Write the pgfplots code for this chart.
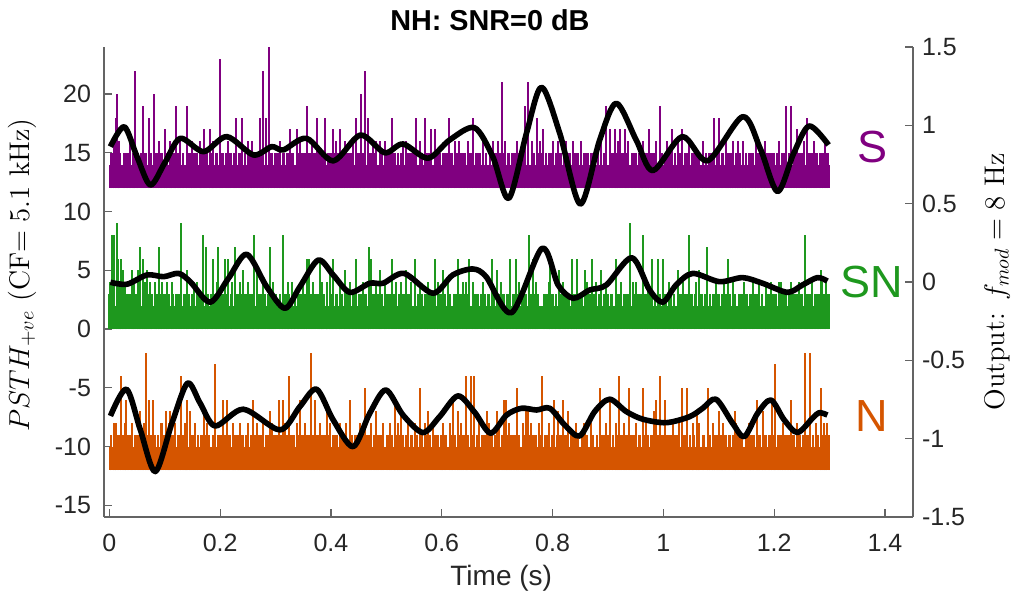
\documentclass[border=0pt]{standalone}
\usepackage{pgfplots}
\pgfplotsset{compat=1.18}
\usepackage{pgfplotstable}
\usepackage{fontspec}
\newfontfamily\hel{Liberation Sans}
\definecolor{cS}{RGB}{128,0,128}
\definecolor{cSN}{RGB}{30,152,30}
\definecolor{cN}{RGB}{213,85,0}
\definecolor{axgray}{RGB}{100,100,100}
\newcommand\ticfont{\fontsize{12.5}{14}\selectfont\hel}
\newcommand\xlabfont{\fontsize{14}{16}\selectfont\hel}
\newcommand\titfont{\fontsize{14.4}{16}\selectfont\hel\bfseries}
\newcommand\labfont{\fontsize{14.2}{16}\selectfont}
\newcommand\tagfont{\fontsize{22.5}{24}\selectfont\hel}

% S: tall spikes (counts above baseline 12)
\pgfplotstableread[row sep=\\]{t c\\
0.008 4\\ 0.012 6\\ 0.014 8\\ 0.017 4\\ 0.038 4\\ 0.046 10\\ 0.061 7\\ 0.071 6\\ 0.080 8\\ 0.089 4\\ 0.100 5\\ 0.110 4\\ 0.120 7\\ 0.128 4\\ 0.140 7\\ 0.149 4\\ 0.164 4\\ 0.171 5\\ 0.181 5\\ 0.188 4\\ 0.200 11\\ 0.215 4\\ 0.229 6\\ 0.240 6\\ 0.251 4\\ 0.257 4\\ 0.272 6\\ 0.278 10\\ 0.283 6\\ 0.288 12\\ 0.308 4\\ 0.327 5\\ 0.338 5\\ 0.344 4\\ 0.357 7\\ 0.365 4\\ 0.374 6\\ 0.390 6\\ 0.404 5\\ 0.410 4\\ 0.417 5\\ 0.425 4\\ 0.440 4\\ 0.446 6\\ 0.454 8\\ 0.461 10\\ 0.467 6\\ 0.476 4\\ 0.482 4\\ 0.488 4\\ 0.497 4\\ 0.510 6\\ 0.530 4\\ 0.536 4\\ 0.554 6\\ 0.560 4\\ 0.569 6\\ 0.580 5\\ 0.587 5\\ 0.613 6\\ 0.623 4\\ 0.632 4\\ 0.647 4\\ 0.656 6\\ 0.674 4\\ 0.693 4\\ 0.702 4\\ 0.708 9\\ 0.715 4\\ 0.735 4\\ 0.750 7\\ 0.756 9\\ 0.762 4\\ 0.771 6\\ 0.777 4\\ 0.783 5\\ 0.801 4\\ 0.810 4\\ 0.825 4\\ 0.837 4\\ 0.852 4\\ 0.888 4\\ 0.897 7\\ 0.903 5\\ 0.913 5\\ 0.918 4\\ 0.922 5\\ 0.931 5\\ 0.937 4\\ 0.963 4\\ 0.974 5\\ 0.987 4\\ 0.993 7\\ 1.007 4\\ 1.016 5\\ 1.026 4\\ 1.034 5\\ 1.047 4\\ 1.071 4\\ 1.092 6\\ 1.101 6\\ 1.113 4\\ 1.125 4\\ 1.134 4\\ 1.143 4\\ 1.167 4\\ 1.183 4\\ 1.209 4\\ 1.222 7\\ 1.231 7\\ 1.241 5\\ 1.254 4\\ 1.259 6\\ 1.272 4\\ 1.292 4\\
}\Stall
\pgfplotstableread[row sep=\\]{t\\
0.004\\ 0.019\\ 0.027\\ 0.033\\ 0.043\\ 0.051\\ 0.058\\ 0.066\\ 0.075\\ 0.085\\ 0.094\\ 0.104\\ 0.113\\ 0.117\\ 0.124\\ 0.133\\ 0.145\\ 0.153\\ 0.158\\ 0.167\\ 0.176\\ 0.186\\ 0.193\\ 0.204\\ 0.211\\ 0.219\\ 0.226\\ 0.235\\ 0.245\\ 0.254\\ 0.262\\ 0.268\\ 0.276\\ 0.292\\ 0.299\\ 0.304\\ 0.314\\ 0.321\\ 0.331\\ 0.341\\ 0.349\\ 0.353\\ 0.361\\ 0.370\\ 0.379\\ 0.385\\ 0.395\\ 0.400\\ 0.408\\ 0.414\\ 0.421\\ 0.430\\ 0.436\\ 0.450\\ 0.458\\ 0.472\\ 0.480\\ 0.492\\ 0.502\\ 0.507\\ 0.515\\ 0.521\\ 0.527\\ 0.540\\ 0.546\\ 0.551\\ 0.563\\ 0.572\\ 0.577\\ 0.590\\ 0.596\\ 0.603\\ 0.609\\ 0.617\\ 0.626\\ 0.636\\ 0.641\\ 0.652\\ 0.662\\ 0.668\\ 0.680\\ 0.687\\ 0.697\\ 0.705\\ 0.712\\ 0.720\\ 0.727\\ 0.732\\ 0.741\\ 0.746\\ 0.766\\ 0.775\\ 0.779\\ 0.788\\ 0.794\\ 0.799\\ 0.807\\ 0.815\\ 0.821\\ 0.830\\ 0.841\\ 0.846\\ 0.857\\ 0.863\\ 0.870\\ 0.876\\ 0.882\\ 0.893\\ 0.908\\ 0.916\\ 0.926\\ 0.934\\ 0.944\\ 0.950\\ 0.956\\ 0.961\\ 0.969\\ 0.979\\ 0.984\\ 0.996\\ 1.003\\ 1.011\\ 1.021\\ 1.029\\ 1.039\\ 1.044\\ 1.052\\ 1.058\\ 1.064\\ 1.077\\ 1.083\\ 1.088\\ 1.097\\ 1.107\\ 1.118\\ 1.122\\ 1.131\\ 1.138\\ 1.149\\ 1.155\\ 1.161\\ 1.172\\ 1.177\\ 1.188\\ 1.194\\ 1.199\\ 1.205\\ 1.214\\ 1.218\\ 1.227\\ 1.236\\ 1.246\\ 1.251\\ 1.263\\ 1.268\\ 1.277\\ 1.283\\ 1.288\\ 1.296\\
}\Sdense

% SN: tall spikes (counts above baseline 0)
\pgfplotstableread[row sep=\\]{t c\\
0.002 4\\ 0.005 8\\ 0.009 8\\ 0.013 9\\ 0.016 6\\ 0.020 4\\ 0.021 6\\ 0.025 5\\ 0.029 4\\ 0.041 5\\ 0.044 4\\ 0.051 5\\ 0.056 7\\ 0.060 6\\ 0.065 4\\ 0.068 5\\ 0.074 4\\ 0.083 4\\ 0.089 7\\ 0.095 4\\ 0.104 4\\ 0.113 4\\ 0.130 9\\ 0.140 5\\ 0.152 4\\ 0.158 4\\ 0.169 8\\ 0.174 7\\ 0.187 6\\ 0.194 4\\ 0.197 7\\ 0.209 6\\ 0.215 6\\ 0.221 4\\ 0.227 7\\ 0.236 4\\ 0.242 5\\ 0.251 4\\ 0.261 8\\ 0.267 5\\ 0.278 4\\ 0.290 7\\ 0.296 4\\ 0.313 8\\ 0.323 4\\ 0.329 4\\ 0.350 4\\ 0.356 6\\ 0.361 6\\ 0.368 4\\ 0.380 6\\ 0.383 4\\ 0.392 4\\ 0.398 5\\ 0.404 6\\ 0.416 4\\ 0.425 5\\ 0.434 4\\ 0.446 6\\ 0.458 4\\ 0.468 7\\ 0.472 6\\ 0.482 4\\ 0.488 5\\ 0.497 4\\ 0.511 6\\ 0.518 4\\ 0.527 4\\ 0.536 5\\ 0.545 4\\ 0.552 6\\ 0.560 4\\ 0.575 4\\ 0.587 6\\ 0.593 4\\ 0.602 5\\ 0.611 4\\ 0.629 6\\ 0.638 4\\ 0.644 4\\ 0.650 6\\ 0.656 4\\ 0.674 4\\ 0.690 6\\ 0.699 5\\ 0.707 4\\ 0.724 6\\ 0.734 6\\ 0.740 4\\ 0.757 8\\ 0.764 6\\ 0.770 4\\ 0.794 4\\ 0.795 6\\ 0.812 5\\ 0.819 4\\ 0.835 6\\ 0.844 6\\ 0.858 5\\ 0.863 4\\ 0.871 6\\ 0.879 4\\ 0.888 5\\ 0.897 4\\ 0.914 6\\ 0.924 4\\ 0.939 9\\ 0.945 4\\ 0.951 4\\ 0.963 8\\ 0.972 4\\ 0.980 6\\ 0.990 6\\ 1.000 6\\ 1.011 4\\ 1.026 5\\ 1.035 4\\ 1.047 8\\ 1.059 4\\ 1.065 5\\ 1.079 7\\ 1.095 4\\ 1.110 4\\ 1.116 6\\ 1.125 4\\ 1.146 4\\ 1.161 4\\ 1.173 4\\ 1.185 4\\ 1.194 4\\ 1.209 4\\ 1.212 4\\ 1.230 4\\ 1.245 4\\ 1.256 8\\ 1.269 4\\ 1.284 5\\ 1.287 4\\ 1.293 4\\
}\SNtall
\pgfplotstableread[row sep=\\]{t\\
0.001\\ 0.008\\ 0.018\\ 0.023\\ 0.031\\ 0.037\\ 0.047\\ 0.054\\ 0.063\\ 0.071\\ 0.077\\ 0.086\\ 0.092\\ 0.099\\ 0.107\\ 0.115\\ 0.121\\ 0.127\\ 0.136\\ 0.143\\ 0.150\\ 0.161\\ 0.166\\ 0.178\\ 0.184\\ 0.191\\ 0.200\\ 0.206\\ 0.212\\ 0.220\\ 0.231\\ 0.239\\ 0.246\\ 0.254\\ 0.258\\ 0.270\\ 0.274\\ 0.281\\ 0.287\\ 0.293\\ 0.300\\ 0.308\\ 0.318\\ 0.323\\ 0.335\\ 0.341\\ 0.347\\ 0.353\\ 0.364\\ 0.372\\ 0.377\\ 0.386\\ 0.393\\ 0.401\\ 0.410\\ 0.419\\ 0.428\\ 0.431\\ 0.440\\ 0.451\\ 0.455\\ 0.462\\ 0.477\\ 0.485\\ 0.491\\ 0.500\\ 0.506\\ 0.514\\ 0.523\\ 0.531\\ 0.539\\ 0.544\\ 0.557\\ 0.563\\ 0.570\\ 0.579\\ 0.584\\ 0.597\\ 0.605\\ 0.614\\ 0.622\\ 0.626\\ 0.634\\ 0.641\\ 0.647\\ 0.660\\ 0.665\\ 0.671\\ 0.678\\ 0.684\\ 0.694\\ 0.703\\ 0.711\\ 0.718\\ 0.729\\ 0.737\\ 0.745\\ 0.751\\ 0.761\\ 0.768\\ 0.773\\ 0.785\\ 0.791\\ 0.800\\ 0.806\\ 0.815\\ 0.824\\ 0.829\\ 0.840\\ 0.849\\ 0.853\\ 0.861\\ 0.867\\ 0.875\\ 0.884\\ 0.893\\ 0.900\\ 0.907\\ 0.918\\ 0.921\\ 0.930\\ 0.935\\ 0.948\\ 0.955\\ 0.959\\ 0.968\\ 0.976\\ 0.985\\ 0.993\\ 1.004\\ 1.013\\ 1.019\\ 1.031\\ 1.038\\ 1.043\\ 1.051\\ 1.057\\ 1.069\\ 1.075\\ 1.084\\ 1.091\\ 1.100\\ 1.106\\ 1.113\\ 1.120\\ 1.129\\ 1.137\\ 1.141\\ 1.150\\ 1.157\\ 1.165\\ 1.170\\ 1.178\\ 1.189\\ 1.198\\ 1.203\\ 1.216\\ 1.221\\ 1.227\\ 1.235\\ 1.240\\ 1.249\\ 1.260\\ 1.265\\ 1.274\\ 1.280\\ 1.290\\ 1.298\\
}\SNdense

% N: tall spikes (counts above baseline -12)
\pgfplotstableread[row sep=\\]{t c\\
0.008 4\\ 0.012 4\\ 0.021 8\\ 0.029 4\\ 0.030 6\\ 0.041 4\\ 0.056 5\\ 0.062 4\\ 0.066 10\\ 0.071 6\\ 0.078 6\\ 0.093 4\\ 0.095 4\\ 0.102 5\\ 0.107 4\\ 0.109 5\\ 0.119 4\\ 0.129 8\\ 0.137 4\\ 0.141 6\\ 0.145 5\\ 0.155 4\\ 0.170 5\\ 0.176 4\\ 0.190 9\\ 0.206 6\\ 0.213 6\\ 0.224 4\\ 0.236 4\\ 0.251 4\\ 0.260 6\\ 0.266 4\\ 0.278 4\\ 0.290 5\\ 0.293 4\\ 0.306 6\\ 0.314 6\\ 0.317 4\\ 0.324 8\\ 0.338 4\\ 0.344 6\\ 0.353 4\\ 0.364 10\\ 0.371 6\\ 0.380 4\\ 0.392 5\\ 0.398 4\\ 0.416 4\\ 0.428 4\\ 0.434 6\\ 0.452 4\\ 0.461 7\\ 0.473 4\\ 0.482 5\\ 0.494 4\\ 0.506 4\\ 0.515 6\\ 0.521 4\\ 0.527 5\\ 0.539 4\\ 0.551 4\\ 0.560 7\\ 0.569 4\\ 0.575 5\\ 0.584 4\\ 0.602 4\\ 0.614 4\\ 0.620 6\\ 0.629 5\\ 0.635 4\\ 0.644 8\\ 0.653 8\\ 0.659 8\\ 0.668 4\\ 0.682 5\\ 0.686 4\\ 0.700 5\\ 0.704 4\\ 0.713 6\\ 0.716 6\\ 0.722 4\\ 0.735 7\\ 0.746 4\\ 0.752 5\\ 0.755 5\\ 0.761 4\\ 0.776 4\\ 0.781 8\\ 0.794 4\\ 0.803 6\\ 0.810 5\\ 0.818 6\\ 0.827 5\\ 0.842 4\\ 0.857 4\\ 0.858 4\\ 0.869 4\\ 0.885 7\\ 0.896 4\\ 0.903 6\\ 0.914 4\\ 0.920 8\\ 0.929 4\\ 0.938 7\\ 0.951 4\\ 0.963 7\\ 0.968 4\\ 0.983 5\\ 0.986 6\\ 0.994 8\\ 1.002 6\\ 1.017 4\\ 1.029 4\\ 1.033 7\\ 1.043 7\\ 1.053 4\\ 1.060 5\\ 1.065 4\\ 1.080 7\\ 1.089 4\\ 1.101 5\\ 1.107 4\\ 1.130 5\\ 1.131 4\\ 1.155 4\\ 1.169 6\\ 1.179 5\\ 1.196 6\\ 1.202 9\\ 1.215 4\\ 1.230 6\\ 1.242 4\\ 1.256 10\\ 1.264 10\\ 1.275 4\\ 1.284 7\\ 1.290 4\\ 1.295 4\\
}\Ntall
\pgfplotstableread[row sep=\\]{t\\
0.003\\ 0.011\\ 0.016\\ 0.025\\ 0.034\\ 0.040\\ 0.047\\ 0.053\\ 0.060\\ 0.069\\ 0.075\\ 0.082\\ 0.088\\ 0.098\\ 0.105\\ 0.112\\ 0.116\\ 0.125\\ 0.133\\ 0.139\\ 0.148\\ 0.152\\ 0.160\\ 0.166\\ 0.173\\ 0.180\\ 0.187\\ 0.196\\ 0.201\\ 0.210\\ 0.217\\ 0.228\\ 0.233\\ 0.240\\ 0.247\\ 0.256\\ 0.264\\ 0.271\\ 0.275\\ 0.283\\ 0.289\\ 0.297\\ 0.302\\ 0.310\\ 0.320\\ 0.327\\ 0.333\\ 0.341\\ 0.348\\ 0.357\\ 0.361\\ 0.368\\ 0.376\\ 0.385\\ 0.389\\ 0.396\\ 0.404\\ 0.410\\ 0.421\\ 0.425\\ 0.437\\ 0.444\\ 0.449\\ 0.457\\ 0.465\\ 0.470\\ 0.478\\ 0.486\\ 0.491\\ 0.502\\ 0.509\\ 0.516\\ 0.524\\ 0.530\\ 0.536\\ 0.545\\ 0.554\\ 0.563\\ 0.572\\ 0.578\\ 0.588\\ 0.593\\ 0.599\\ 0.607\\ 0.617\\ 0.624\\ 0.632\\ 0.639\\ 0.647\\ 0.656\\ 0.664\\ 0.673\\ 0.678\\ 0.690\\ 0.697\\ 0.702\\ 0.710\\ 0.719\\ 0.726\\ 0.731\\ 0.739\\ 0.749\\ 0.758\\ 0.765\\ 0.770\\ 0.778\\ 0.787\\ 0.791\\ 0.800\\ 0.808\\ 0.815\\ 0.823\\ 0.834\\ 0.839\\ 0.846\\ 0.853\\ 0.861\\ 0.872\\ 0.880\\ 0.889\\ 0.893\\ 0.900\\ 0.909\\ 0.917\\ 0.925\\ 0.933\\ 0.943\\ 0.948\\ 0.957\\ 0.966\\ 0.972\\ 0.979\\ 0.990\\ 0.998\\ 1.008\\ 1.013\\ 1.021\\ 1.026\\ 1.038\\ 1.048\\ 1.055\\ 1.063\\ 1.072\\ 1.084\\ 1.093\\ 1.098\\ 1.104\\ 1.112\\ 1.119\\ 1.127\\ 1.136\\ 1.141\\ 1.150\\ 1.158\\ 1.163\\ 1.173\\ 1.185\\ 1.191\\ 1.200\\ 1.207\\ 1.212\\ 1.221\\ 1.226\\ 1.235\\ 1.245\\ 1.252\\ 1.260\\ 1.270\\ 1.278\\ 1.287\\ 1.293\\ 1.299\\
}\Ndense

% output curves (right axis)
\pgfplotstableread[row sep=\\]{t r\\
0.002 0.864\\ 0.027 0.991\\ 0.050 0.800\\ 0.074 0.619\\ 0.100 0.760\\ 0.128 0.917\\ 0.170 0.832\\ 0.212 0.928\\ 0.260 0.811\\ 0.293 0.864\\ 0.314 0.843\\ 0.356 0.917\\ 0.404 0.773\\ 0.453 0.938\\ 0.497 0.825\\ 0.530 0.881\\ 0.575 0.790\\ 0.614 0.906\\ 0.659 0.985\\ 0.692 0.800\\ 0.721 0.534\\ 0.753 0.951\\ 0.780 1.243\\ 0.813 0.949\\ 0.850 0.498\\ 0.885 0.906\\ 0.915 1.141\\ 0.951 0.906\\ 0.981 0.711\\ 1.034 0.928\\ 1.080 0.774\\ 1.143 1.055\\ 1.175 0.850\\ 1.206 0.577\\ 1.235 0.820\\ 1.263 0.996\\ 1.298 0.875\\
}\Sout
\pgfplotstableread[row sep=\\]{t r\\
0.002 -0.002\\ 0.032 -0.014\\ 0.068 0.045\\ 0.098 0.034\\ 0.125 0.055\\ 0.146 0.002\\ 0.182 -0.129\\ 0.215 0.023\\ 0.248 0.177\\ 0.284 -0.030\\ 0.317 -0.168\\ 0.344 -0.030\\ 0.377 0.140\\ 0.404 0.045\\ 0.434 -0.066\\ 0.470 -0.008\\ 0.494 -0.008\\ 0.532 0.055\\ 0.584 -0.072\\ 0.620 0.045\\ 0.656 0.083\\ 0.680 0.034\\ 0.726 -0.196\\ 0.781 0.215\\ 0.810 -0.019\\ 0.837 -0.104\\ 0.867 -0.051\\ 0.897 -0.019\\ 0.943 0.155\\ 0.975 -0.051\\ 0.999 -0.129\\ 1.023 -0.019\\ 1.053 0.055\\ 1.101 0.002\\ 1.143 0.028\\ 1.179 -0.008\\ 1.224 -0.066\\ 1.251 -0.019\\ 1.278 0.028\\ 1.296 0.006\\
}\SNout
\pgfplotstableread[row sep=\\]{t r\\
0.002 -0.855\\ 0.031 -0.684\\ 0.056 -0.944\\ 0.083 -1.210\\ 0.113 -0.901\\ 0.141 -0.646\\ 0.164 -0.774\\ 0.191 -0.919\\ 0.242 -0.812\\ 0.308 -0.944\\ 0.344 -0.795\\ 0.374 -0.684\\ 0.404 -0.880\\ 0.440 -1.051\\ 0.470 -0.838\\ 0.499 -0.689\\ 0.530 -0.849\\ 0.566 -0.961\\ 0.596 -0.860\\ 0.629 -0.727\\ 0.659 -0.830\\ 0.688 -0.965\\ 0.717 -0.849\\ 0.744 -0.806\\ 0.771 -0.817\\ 0.795 -0.806\\ 0.822 -0.913\\ 0.849 -0.983\\ 0.876 -0.827\\ 0.903 -0.748\\ 0.933 -0.827\\ 0.963 -0.876\\ 1.005 -0.898\\ 1.047 -0.860\\ 1.071 -0.806\\ 1.095 -0.748\\ 1.125 -0.902\\ 1.146 -0.987\\ 1.170 -0.838\\ 1.194 -0.753\\ 1.218 -0.880\\ 1.242 -0.961\\ 1.269 -0.870\\ 1.281 -0.834\\ 1.296 -0.849\\
}\Nout

\pgfplotsset{
  spk/.style={only marks, mark=*, mark size=0pt, mark options={draw=none, fill=none}, forget plot,
    error bars/.cd, y dir=plus, y explicit, error mark=none,
    error bar style={#1}},
  common/.style={scale only axis, width=404.5pt, height=235pt,
    xmin=-0.0096, xmax=1.4505,
    axis line style={-, draw=axgray, line width=0.6pt},
    tick align=inside, major tick length=4pt,
    tick style={draw=axgray, line width=0.6pt},
    ticklabel style={font=\ticfont, text=black!85},
    /pgf/number format/assume math mode=true},
}

\begin{document}
\begin{tikzpicture}
\begin{axis}[common, name=main,
  ymin=-16, ymax=24,
  axis x line*=bottom, axis y line*=left,
  xtick={0,0.2,0.4,0.6,0.8,1,1.2,1.4},
  ytick={-15,-10,-5,0,5,10,15,20},
  xticklabel style={yshift=-5pt},
  yticklabel style={xshift=-3pt},
  title={NH: SNR=0 dB},
  title style={font=\titfont, at={(axis description cs:0.477,1)}, anchor=center, yshift=7.5pt},
  xlabel={Time (s)},
  xlabel style={font=\xlabfont, text=black!85, at={(axis description cs:0.491,0)}, anchor=center, yshift=-30.5pt},
  ylabel={$PSTH_{+ve}$ (CF$=5.1$ kHz)},
  ylabel style={font=\labfont, at={(axis description cs:-0.1014,0.515)}, anchor=center},
]
% S
\addplot[fill=cS, draw=none, forget plot] coordinates {(0,12) (1.3,12) (1.3,14) (0,14)} -- cycle;
\addplot[spk={cS, line width=1.4pt}] table[x index=0, y index=0, y expr=12, y error expr=3] {\Sdense};
\addplot[spk={cS, line width=1pt}] table[x=t, y expr=12, y error=c] {\Stall};
% SN
\addplot[fill=cSN, draw=none, forget plot] coordinates {(0,0) (1.3,0) (1.3,2) (0,2)} -- cycle;
\addplot[spk={cSN, line width=1.4pt}] table[x index=0, y index=0, y expr=0, y error expr=3] {\SNdense};
\addplot[spk={cSN, line width=1pt}] table[x=t, y expr=0, y error=c] {\SNtall};
% N
\addplot[fill=cN, draw=none, forget plot] coordinates {(0,-12) (1.3,-12) (1.3,-10) (0,-10)} -- cycle;
\addplot[spk={cN, line width=1.4pt}] table[x index=0, y index=0, y expr=-12, y error expr=3] {\Ndense};
\addplot[spk={cN, line width=1pt}] table[x=t, y expr=-12, y error=c] {\Ntall};
\node[font=\tagfont, text=cS] at (axis cs:1.378,15.46) {S};
\node[font=\tagfont, text=cSN] at (axis cs:1.376,4.0) {SN};
\node[font=\tagfont, text=cN] at (axis cs:1.376,-7.4) {N};
\end{axis}
\begin{axis}[common,
  ymin=-1.5, ymax=1.5,
  axis y line*=right, axis x line=none,
  ytick={-1.5,-1,-0.5,0,0.5,1,1.5},
  yticklabel style={xshift=1pt},
  ylabel={Output: $f_{mod}=8$ Hz},
  ylabel style={font=\labfont, at={(axis description cs:1.104,0.5)}, anchor=center, rotate=0},
]
\addplot[black, line width=2.8pt, smooth, line join=round] table[x=t, y=r] {\Sout};
\addplot[black, line width=2.8pt, smooth, line join=round] table[x=t, y=r] {\SNout};
\addplot[black, line width=2.8pt, smooth, line join=round] table[x=t, y=r] {\Nout};
\end{axis}
\pgfresetboundingbox
\path[use as bounding box] ([xshift=-52pt,yshift=-39pt]main.south west) rectangle ([xshift=50pt,yshift=23.5pt]main.north east);
\end{tikzpicture}
\end{document}
